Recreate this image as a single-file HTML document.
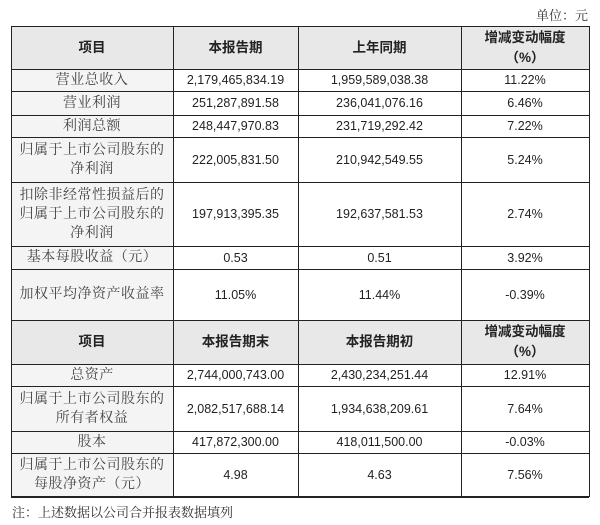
<!DOCTYPE html><html><head><meta charset="utf-8"><style>
body{margin:0;width:600px;height:525px;background:#fff;position:relative;overflow:hidden;font-family:"Liberation Sans","Noto Sans CJK SC",sans-serif;color:#222}
.c{position:absolute;display:flex;align-items:center;justify-content:center;text-align:center;box-sizing:border-box;font-size:12.5px;line-height:20px}
.l{font-family:"Liberation Serif","Noto Serif CJK SC",serif;font-size:14px;line-height:19px;color:#444;background:#f4f4f4;letter-spacing:0.5px}
.h{background:#e8e8e8;font-weight:bold;font-size:13.5px;line-height:20px}
.hl{position:absolute;height:1.5px;background:#222;left:11px;width:578px}
.vl{position:absolute;width:1.5px;background:#222;top:26px;height:471px}
.t{position:absolute;font-family:"Liberation Serif","Noto Serif CJK SC",serif;font-size:13px;color:#333}
</style></head><body>
<div class="t" style="right:12px;top:5px">单位：元</div>
<div class="t" style="left:12px;top:502px">注：上述数据以公司合并报表数据填列</div>
<div id="g"></div>
<script>
var cols=[11,173,298,461,589];
var rows=[
[26,69,'h',['项目','本报告期','上年同期','增减变动幅度<br>（%）']],
[69,91,'',['营业总收入','2,179,465,834.19','1,959,589,038.38','11.22%']],
[91,115,'',['营业利润','251,287,891.58','236,041,076.16','6.46%']],
[115,137,'',['利润总额','248,447,970.83','231,719,292.42','7.22%']],
[137,182,'',['归属于上市公司股东的<br>净利润','222,005,831.50','210,942,549.55','5.24%']],
[182,246,'',['扣除非经常性损益后的<br>归属于上市公司股东的<br>净利润','197,913,395.35','192,637,581.53','2.74%']],
[246,269,'',['基本每股收益（元）','0.53','0.51','3.92%']],
[269,320,'',['加权平均净资产收益率','11.05%','11.44%','-0.39%']],
[320,364,'h',['项目','本报告期末','本报告期初','增减变动幅度<br>（%）']],
[364,386,'',['总资产','2,744,000,743.00','2,430,234,251.44','12.91%']],
[386,431,'',['归属于上市公司股东的<br>所有者权益','2,082,517,688.14','1,934,638,209.61','7.64%']],
[431,453,'',['股本','417,872,300.00','418,011,500.00','-0.03%']],
[453,497,'',['归属于上市公司股东的<br>每股净资产（元）','4.98','4.63','7.56%']]];
var h='';
rows.forEach(function(r){for(var i=0;i<4;i++){var cls='c '+(r[2]?'h':(i==0?'l':''));
h+='<div class="'+cls+'" style="left:'+cols[i]+'px;width:'+(cols[i+1]-cols[i])+'px;top:'+r[0]+'px;height:'+(r[1]-r[0])+'px">'+r[3][i]+'</div>';}
h+='<div class="hl" style="top:'+(r[0]-0.5)+'px"></div>';});
h+='<div class="hl" style="top:496px"></div>';
cols.forEach(function(x){h+='<div class="vl" style="left:'+(x-0.5)+'px"></div>';});
document.getElementById('g').innerHTML=h;
</script>
</body></html>
